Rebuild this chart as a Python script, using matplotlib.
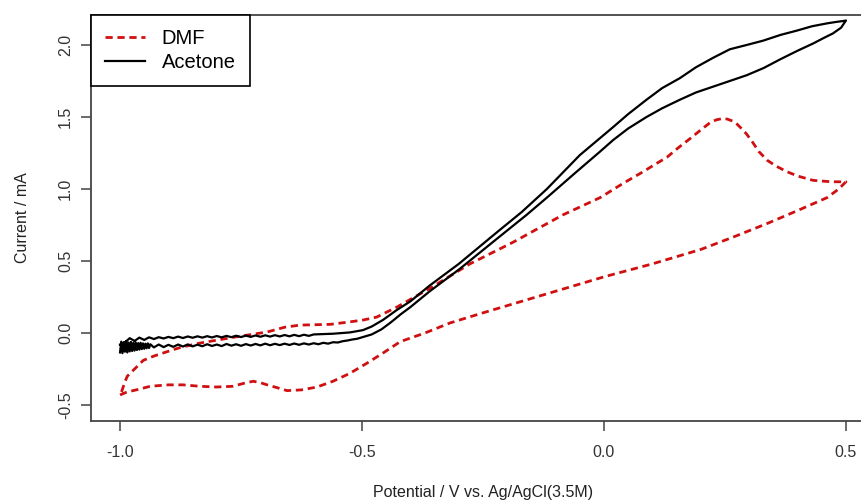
import matplotlib
matplotlib.use("Agg")
import matplotlib.pyplot as plt

plt.rcParams['font.family'] = ['Liberation Sans', 'DejaVu Sans']

# Cyclic voltammograms, potential (V vs Ag/AgCl) and current (mA)
# DMF: forward sweep -1.0 -> 0.5, then back to -1.0
dmf_v = [-1.000, -0.986, -0.960, -0.938, -0.900, -0.870, -0.835, -0.800, -0.767,
         -0.745, -0.725, -0.710, -0.696, -0.675, -0.655, -0.625, -0.593, -0.560,
         -0.525, -0.490, -0.457, -0.421, -0.370, -0.318, -0.250, -0.200, -0.100,
         0.000, 0.100, 0.200, 0.270, 0.337, 0.400, 0.461, 0.485, 0.500,
         0.470, 0.432, 0.400, 0.378, 0.355, 0.337, 0.320, 0.308, 0.295, 0.287,
         0.275, 0.267, 0.255, 0.246, 0.232, 0.219, 0.200, 0.178, 0.155, 0.130,
         0.105, 0.081, 0.040, -0.008, -0.085, -0.188, -0.277, -0.360, -0.428,
         -0.470, -0.498, -0.530, -0.566, -0.628, -0.660, -0.696, -0.766, -0.835,
         -0.875, -0.903, -0.930, -0.952, -0.973, -0.985, -0.990, -0.996, -1.000]
dmf_i = [-0.430, -0.410, -0.390, -0.370, -0.360, -0.360, -0.370, -0.375, -0.370,
         -0.350, -0.335, -0.345, -0.360, -0.380, -0.400, -0.395, -0.375, -0.335,
         -0.280, -0.210, -0.140, -0.060, 0.000, 0.070, 0.140, 0.190, 0.290,
         0.390, 0.480, 0.580, 0.670, 0.760, 0.850, 0.940, 1.000, 1.050,
         1.050, 1.060, 1.090, 1.120, 1.160, 1.200, 1.260, 1.320, 1.380, 1.410,
         1.450, 1.470, 1.485, 1.490, 1.480, 1.460, 1.410, 1.350, 1.290, 1.220,
         1.170, 1.120, 1.040, 0.940, 0.820, 0.630, 0.480, 0.310, 0.180,
         0.110, 0.090, 0.075, 0.060, 0.055, 0.040, 0.007, -0.030, -0.070,
         -0.100, -0.130, -0.160, -0.190, -0.260, -0.300, -0.340, -0.400, -0.430]

# Acetone: noisy baseline at negative potentials, then oxidation wave
acetone_v = [
    # noisy start near -1.0 V
    -1.000, -0.9975, -0.995, -0.9925, -0.990, -0.9875, -0.985, -0.9825, -0.980,
    -0.9775, -0.975, -0.9725, -0.970, -0.9675, -0.965, -0.9625, -0.960, -0.9575,
    -0.955, -0.9525, -0.950, -0.9475, -0.945, -0.9425, -0.940, -0.9375,
    # forward baseline
    -0.93, -0.92, -0.91, -0.90, -0.89, -0.88, -0.87, -0.86, -0.85, -0.84, -0.83,
    -0.82, -0.81, -0.80, -0.79, -0.78, -0.77, -0.76, -0.75, -0.74, -0.73, -0.72,
    -0.71, -0.70, -0.69, -0.68, -0.67, -0.66, -0.65, -0.64, -0.63, -0.62, -0.61,
    -0.60, -0.59, -0.58, -0.57, -0.56, -0.55, -0.54, -0.53, -0.52, -0.51,
    # forward wave
    -0.500, -0.480, -0.460, -0.440, -0.420, -0.400, -0.360, -0.300, -0.221,
    -0.160, -0.118, -0.060, -0.008, 0.019, 0.050, 0.088, 0.120, 0.157, 0.190,
    0.225, 0.260, 0.295, 0.330, 0.364, 0.400, 0.432, 0.455, 0.473, 0.490, 0.500,
    # reverse wave
    0.498, 0.480, 0.461, 0.430, 0.399, 0.365, 0.329, 0.295, 0.260, 0.225, 0.190,
    0.157, 0.120, 0.088, 0.050, 0.019, -0.020, -0.050, -0.118, -0.170, -0.221,
    -0.300, -0.360, -0.400, -0.428, -0.457, -0.480, -0.498, -0.525, -0.560,
    # reverse baseline
    -0.60, -0.61, -0.62, -0.63, -0.64, -0.65, -0.66, -0.67, -0.68, -0.69, -0.70,
    -0.71, -0.72, -0.73, -0.74, -0.75, -0.76, -0.77, -0.78, -0.79, -0.80, -0.81,
    -0.82, -0.83, -0.84, -0.85, -0.86, -0.87, -0.88, -0.89, -0.90, -0.91, -0.92,
    -0.93, -0.94, -0.95, -0.96, -0.97, -0.98, -0.99, -1.00]
acetone_i = [
    -0.135, -0.060, -0.140, -0.065, -0.130, -0.058, -0.135, -0.066, -0.128,
    -0.062, -0.125, -0.068, -0.122, -0.066, -0.118, -0.070, -0.115, -0.068,
    -0.112, -0.072, -0.110, -0.074, -0.106, -0.072, -0.104, -0.078,
    -0.100, -0.080, -0.098, -0.082, -0.096, -0.080, -0.094, -0.079, -0.093, -0.081, -0.092,
    -0.078, -0.090, -0.080, -0.091, -0.076, -0.088, -0.078, -0.089, -0.077, -0.087, -0.076,
    -0.086, -0.074, -0.085, -0.075, -0.084, -0.074, -0.083, -0.073, -0.082, -0.072, -0.080,
    -0.071, -0.078, -0.068, -0.074, -0.064, -0.066, -0.057, -0.052, -0.045, -0.040,
    -0.030, -0.010, 0.025, 0.075, 0.130, 0.180, 0.290, 0.440, 0.655,
    0.820, 0.940, 1.110, 1.260, 1.340, 1.420, 1.500, 1.560, 1.620, 1.670,
    1.710, 1.750, 1.790, 1.840, 1.900, 1.960, 2.010, 2.050, 2.080, 2.120, 2.170,
    2.168, 2.160, 2.150, 2.130, 2.100, 2.070, 2.030, 2.000, 1.970, 1.910, 1.845,
    1.770, 1.700, 1.620, 1.520, 1.430, 1.320, 1.235, 1.000, 0.840, 0.700,
    0.480, 0.330, 0.220, 0.160, 0.090, 0.045, 0.020, 0.004, -0.005,
    -0.010, -0.020, -0.012, -0.022, -0.013, -0.023, -0.014, -0.024, -0.015, -0.025, -0.016,
    -0.026, -0.017, -0.027, -0.018, -0.028, -0.019, -0.029, -0.020, -0.030, -0.021, -0.031,
    -0.022, -0.032, -0.023, -0.033, -0.024, -0.035, -0.025, -0.036, -0.027, -0.038, -0.029,
    -0.042, -0.030, -0.048, -0.032, -0.055, -0.036, -0.065, -0.080]

fig = plt.figure(figsize=(8.62, 5.03), dpi=100)
ax = fig.add_axes([91 / 862, 82 / 503, 784 / 862, 406 / 503])

ax.plot(dmf_v, dmf_i, color='#d01010', lw=2.0, dashes=(2.6, 1.7), label='DMF')
ax.plot(acetone_v, acetone_i, color='black', lw=1.6, label='Acetone')

ax.set_xlim(-1.06, 0.56)
ax.set_ylim(-0.611, 2.208)
ax.set_xticks([-1.0, -0.5, 0.0, 0.5])
ax.set_yticks([-0.5, 0.0, 0.5, 1.0, 1.5, 2.0])
ax.set_xticklabels(['-1.0', '-0.5', '0.0', '0.5'])
ax.set_yticklabels(['-0.5', '0.0', '0.5', '1.0', '1.5', '2.0'],
                   rotation=90, va='center')

for sp in ax.spines.values():
    sp.set_color('#444444')
    sp.set_linewidth(1.3)
ax.tick_params(axis='both', direction='out', length=7, width=1.1, color='#444444',
               labelsize=11.5, labelcolor='#333333')
ax.tick_params(axis='x', pad=10)
ax.tick_params(axis='y', pad=6)

ax.set_xlabel('Potential / V vs. Ag/AgCl(3.5M)', fontsize=11.5, color='#222222',
              labelpad=18)
ax.set_ylabel('Current / mA', fontsize=11.5, color='#222222', labelpad=20)

leg = ax.legend(loc='upper left', bbox_to_anchor=(0, 1), borderaxespad=0,
                fontsize=14.5, fancybox=False, framealpha=1, edgecolor='black',
                handlelength=2.0, handletextpad=0.8, labelspacing=0.25,
                borderpad=0.7)
leg.get_frame().set_linewidth(1.2)

fig.savefig('out.png', dpi=100, facecolor='white')
